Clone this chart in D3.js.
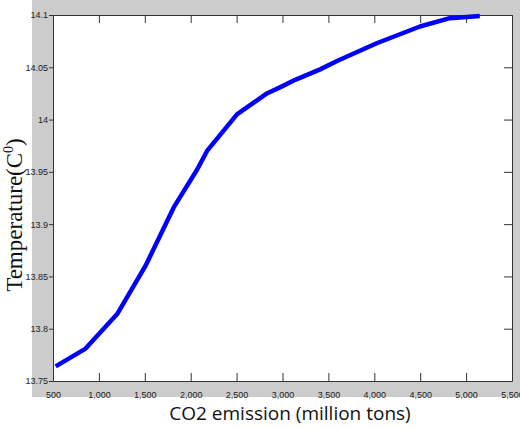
<!DOCTYPE html>
<html><head><meta charset="utf-8">
<script src="https://cdn.jsdelivr.net/npm/d3@7"></script>
<style>body{margin:0;background:#fff}</style>
</head><body><svg id="c" width="520" height="428"></svg>
<script>
const emission = [529,855,1199,1507,1815,2069,2178,2504,2830,3000,3138,3410,3594,4026,4497,4823,5149];
const temperature = [13.764,13.781,13.814,13.860,13.916,13.952,13.970,14.005,14.025,14.032,14.038,14.048,14.056,14.073,14.089,14.097,14.099];
const xTicks = [500,1000,1500,2000,2500,3000,3500,4000,4500,5000,5500];
const yTicks = [13.75,13.8,13.85,13.9,13.95,14,14.05,14.1];

const svg = d3.select("#c");
svg.append("rect").attr("x",32).attr("y",0).attr("width",488).attr("height",397).attr("fill","#cccccc");
const L=53,R=512,T=15,B=381;
svg.append("rect").attr("x",L).attr("y",T).attr("width",R-L).attr("height",B-T).attr("fill","#fff");
const x=d3.scaleLinear().domain([500,5500]).range([L,R]);
const y=d3.scaleLinear().domain([13.75,14.1]).range([B,T]);
const fmt=d3.format(",");
const ax=(g)=>g.attr("font-family","'Liberation Sans', Arial, sans-serif").attr("font-size",9).selectAll("text").attr("fill","#222");
svg.append("g").attr("transform",`translate(0,${B})`).call(d3.axisBottom(x).tickValues(xTicks).tickFormat(fmt).tickSizeInner(-8).tickSizeOuter(0).tickPadding(11)).call(ax);
svg.append("g").attr("transform",`translate(0,${T})`).call(d3.axisTop(x).tickValues(xTicks).tickFormat("").tickSizeInner(-8).tickSizeOuter(0));
svg.append("g").attr("transform",`translate(${L},0)`).call(d3.axisLeft(y).tickValues(yTicks).tickFormat(d=>String(+d.toFixed(2))).tickSizeInner(4).tickSizeOuter(0).tickPadding(1)).call(ax);
svg.append("g").attr("transform",`translate(${R},0)`).call(d3.axisRight(y).tickValues(yTicks).tickFormat("").tickSizeInner(-8).tickSizeOuter(0));
svg.selectAll(".domain").attr("stroke","#333");
svg.selectAll(".tick line").attr("stroke","#333");
const line=d3.line().x((d,i)=>x(emission[i])).y((d,i)=>y(temperature[i])).curve(d3.curveLinear);
svg.append("path").datum(emission).attr("d",line).attr("fill","none").attr("stroke","#0000ff").attr("stroke-width",4.5).attr("stroke-linejoin","round");
svg.append("text").attr("x",290).attr("y",420).attr("text-anchor","middle").style("font-family","Open Sans, sans-serif").style("font-size","19px").attr("fill","#111").text("CO2 emission (million tons)");
const yl=svg.append("text").attr("transform","translate(22,215) rotate(-90)").attr("text-anchor","middle").style("font-family","Liberation Serif, Times New Roman, serif").style("font-size","23px").attr("fill","#111");
yl.append("tspan").text("Temperature(C");
yl.append("tspan").attr("dy",-9).style("font-size","14px").text("0");
yl.append("tspan").attr("dy",9).text(")");
</script></body></html>
